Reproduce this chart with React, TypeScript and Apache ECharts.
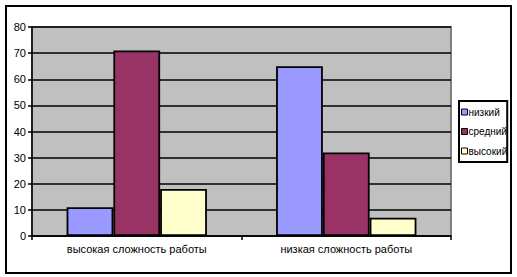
import React, { useEffect, useRef } from "react";
import * as echarts from "echarts";

const categories = ["высокая сложность работы", "низкая сложность работы"];
const seriesNames = ["низкий", "средний", "высокий"];
const lowValues = [11, 65];
const midValues = [71, 32];
const highValues = [18, 7];
const seriesColors = ["#9999FF", "#993366", "#FFFFCC"];
const yTicks = { min: 0, max: 80, interval: 10 };

const FONT = 'Arial, "Liberation Sans", sans-serif';

export default function App() {
  const ref = useRef<HTMLDivElement>(null);
  useEffect(() => {
    if (!ref.current) return;
    const chart = echarts.init(ref.current, undefined, { renderer: "svg" });
    const values = [lowValues, midValues, highValues];
    chart.setOption({
      animation: false,
      backgroundColor: "#FFFFFF",
      grid: {
        left: 32,
        top: 27,
        right: 66,
        bottom: 41,
        show: true,
        backgroundColor: "#C0C0C0",
        borderColor: "#808080",
        borderWidth: 2,
      },
      graphic: [
        {
          type: "rect",
          shape: { x: 6, y: 6, width: 505, height: 267 },
          style: { fill: "none", stroke: "#000", lineWidth: 2 },
          z: 100,
        },
      ],
      legend: {
        orient: "vertical",
        left: 459,
        top: 101,
        padding: [5, 0, 5, 2],
        itemGap: 7.5,
        itemWidth: 6,
        itemHeight: 6,
        borderColor: "#000",
        borderWidth: 2,
        backgroundColor: "#FFFFFF",
        icon: "rect",
        itemStyle: { borderColor: "#000", borderWidth: 1 },
        textStyle: { fontFamily: FONT, fontSize: 10, color: "#000", lineHeight: 12, padding: [0, 0, 0, -4] },
        data: seriesNames,
      },
      xAxis: {
        type: "category",
        data: categories,
        axisLine: { lineStyle: { color: "#000", width: 1.5 } },
        axisTick: { show: true, interval: 0, length: 4, lineStyle: { color: "#000", width: 1.5 } },
        axisLabel: { fontFamily: FONT, fontSize: 11, color: "#000", margin: 7, interval: 0 },
        splitLine: { show: false },
      },
      yAxis: {
        type: "value",
        min: yTicks.min,
        max: yTicks.max,
        interval: yTicks.interval,
        axisLine: { show: true, lineStyle: { color: "#000", width: 1.5 } },
        axisTick: { show: true, length: 4, lineStyle: { color: "#000", width: 1.5 } },
        axisLabel: { fontFamily: FONT, fontSize: 11, color: "#000", margin: 6 },
        splitLine: { show: true, lineStyle: { color: "#000", width: 1.6 } },
      },
      series: seriesNames.map((name, i) => ({
        name,
        type: "bar",
        data: values[i],
        barGap: "0%",
        barCategoryGap: "33%",
        itemStyle: { color: seriesColors[i], borderColor: "#000", borderWidth: 1.8 },
      })),
    });
    return () => chart.dispose();
  }, []);
  return (
    <div
      ref={ref}
      style={{ position: "fixed", left: 0, top: 0, width: 517, height: 277 }}
    />
  );
}
